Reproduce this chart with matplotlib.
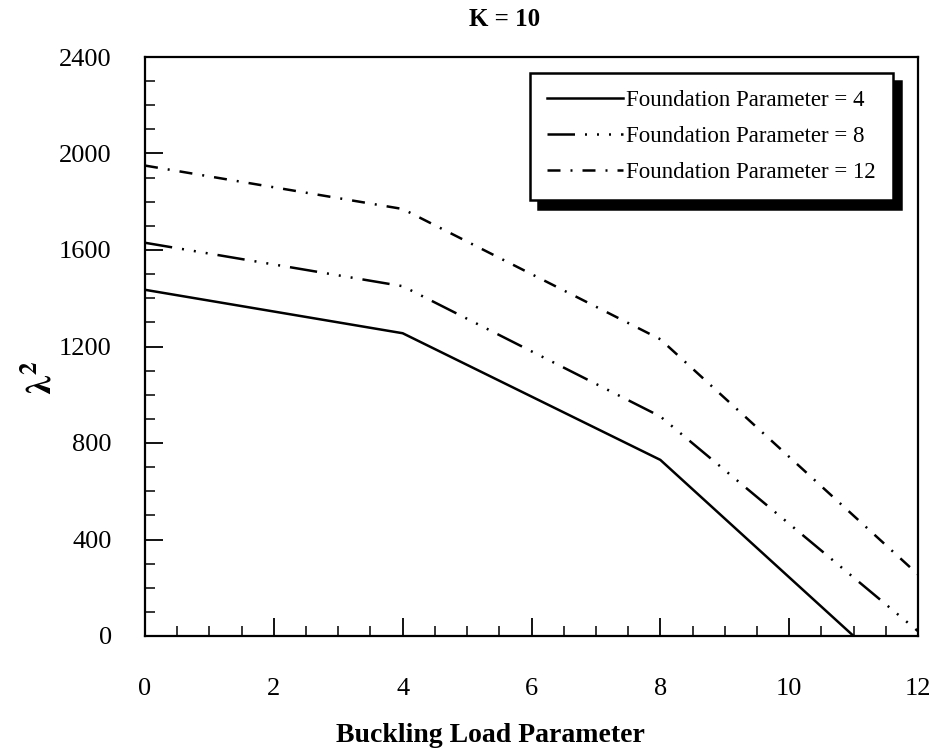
import matplotlib
matplotlib.use("Agg")
import matplotlib.pyplot as plt
from matplotlib.ticker import MultipleLocator

plt.rcParams['font.family'] = ['Liberation Serif', 'DejaVu Serif']
plt.rcParams['mathtext.fontset'] = 'stix'

x_vals = [0, 4, 8, 11]
fp4 = [1435, 1255, 730, 0]
x_vals8 = [0, 4, 8, 12]
fp8 = [1630, 1450, 910, 20]
x_vals12 = [0, 4, 8, 12]
fp12 = [1950, 1770, 1230, 255]
labels = ["Foundation Parameter = 4", "Foundation Parameter = 8", "Foundation Parameter = 12"]

W, H = 930, 750
fig = plt.figure(figsize=(9.3, 7.5), dpi=100)
ax = fig.add_axes([145 / W, 1 - 636 / H, (918 - 145) / W, (636 - 57) / H])

lw = 1.8
ax.plot(x_vals, fp4, color='black', lw=lw, linestyle='-', label=labels[0])
ax.plot(x_vals8, fp8, color='black', lw=lw,
        linestyle=(0, (11, 4, 0.8, 4, 0.8, 4, 0.8, 4)), label=labels[1])
ax.plot(x_vals12, fp12, color='black', lw=lw,
        linestyle=(0, (5.2, 4, 0.8, 4)), label=labels[2])

ax.set_xlim(0, 12)
ax.set_ylim(0, 2400)
ax.xaxis.set_major_locator(MultipleLocator(2))
ax.xaxis.set_minor_locator(MultipleLocator(0.5))
ax.yaxis.set_major_locator(MultipleLocator(400))
ax.yaxis.set_minor_locator(MultipleLocator(100))
ax.tick_params(which='major', direction='in', length=13, width=1.3, labelsize=19)
ax.tick_params(which='minor', direction='in', length=7, width=1.1)
ax.tick_params(axis='x', which='major', pad=30)
ax.tick_params(axis='y', which='major', pad=24)
for s in ax.spines.values():
    s.set_linewidth(1.6)

fig.text(490 / W, 1 - 735 / H, "Buckling Load Parameter", fontsize=20, fontweight='bold',
         ha='center', va='center')
fig.text(42 / W, 1 - 378 / H, r"$\mathbf{\lambda^2}$", fontsize=26, rotation=90,
         ha='center', va='center')
fig.text(505 / W, 1 - 20 / H, "K = 10", fontsize=18, fontweight='bold',
         ha='center', va='center')

leg = ax.legend(loc='upper left', bbox_to_anchor=(530 / W, 1 - 73 / H),
                bbox_transform=fig.transFigure, borderaxespad=0, frameon=True,
                fancybox=False, shadow={'ox': 6, 'oy': -6, 'color': 'black', 'alpha': 1},
                fontsize=16.5, handlelength=3.3, handletextpad=0.15, labelspacing=0.65,
                borderpad=0.75, edgecolor='black', framealpha=1)
leg.get_frame().set_linewidth(1.8)

fig.savefig("out.png", dpi=100)
